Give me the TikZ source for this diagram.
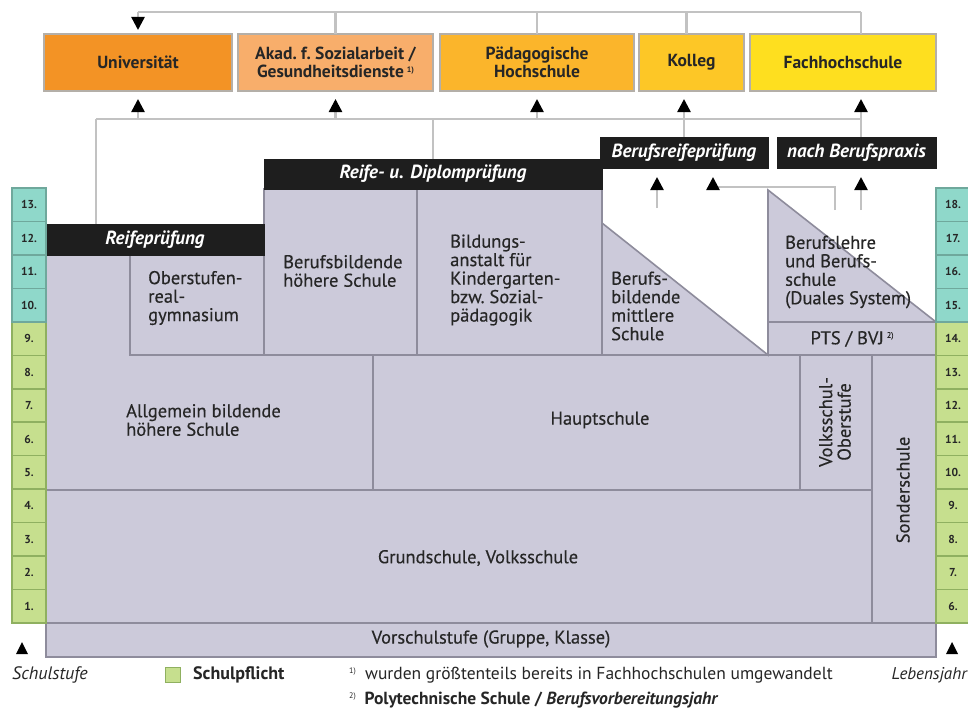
\documentclass[tikz,border=0pt]{standalone}
\usepackage{fontspec}
\setmainfont{PT Sans}
\newfontfamily\medfont[FakeBold=0.4]{PT Sans}
\usetikzlibrary{arrows.meta,calc}
\definecolor{lav}{HTML}{CCCADA}
\definecolor{lavline}{HTML}{8E8C9C}
\definecolor{connc}{HTML}{C2C2C2}
\definecolor{grn}{HTML}{C6DF8E}
\definecolor{grnline}{HTML}{8FB060}
\definecolor{tea}{HTML}{8FD8CA}
\definecolor{tealine}{HTML}{6FA89C}
\definecolor{cuni}{HTML}{F39325}
\definecolor{cakad}{HTML}{F8AE6B}
\definecolor{cpaed}{HTML}{FBB52B}
\definecolor{ckol}{HTML}{FDC726}
\definecolor{cfh}{HTML}{FEDF1F}
\definecolor{boxedge}{HTML}{B4AFA8}
\definecolor{barblack}{HTML}{1E1E1E}
\definecolor{txt}{HTML}{262626}
\begin{document}
\begin{tikzpicture}[x=1pt,y=-1pt,
  topbox/.style={draw=boxedge,line width=1.5pt,inner sep=0pt,outer sep=0pt,anchor=north west,align=center,minimum height=57pt,font=\fontsize{17.5}{17.5}\selectfont\bfseries,text=txt},
  bar/.style={fill=barblack,draw=barblack,inner sep=0pt,outer sep=0pt,anchor=north west,text=white,font=\fontsize{19}{19}\selectfont\bfseries\itshape},
  cell/.style={inner sep=0pt,outer sep=0pt,anchor=north west,minimum width=34pt,minimum height=33.46pt,line width=1.5pt,font=\fontsize{11.5}{12}\selectfont\bfseries,text=txt},
  lbl/.style={align=left,font=\medfont\fontsize{18.5}{18.5}\selectfont,text=txt,inner sep=0pt},
  clbl/.style={align=center,font=\medfont\fontsize{18.5}{18.5}\selectfont,text=txt,inner sep=0pt},
  conn/.style={draw=connc,line width=2.4pt},
  arr/.style={-{Triangle[width=13pt,length=13pt,color=black]}},
  rline/.style={draw=lavline,line width=1.6pt},
  legend/.style={font=\fontsize{17.5}{18}\selectfont,text=txt,inner sep=0pt,anchor=west},
]
\useasboundingbox (0,0) rectangle (968,709);
\fill[white] (0,0) rectangle (968,709);

% ---------- top boxes
\node[topbox,fill=cuni,minimum width=188pt] (uni) at (44,34) {Universität};
\node[topbox,fill=cakad,minimum width=195pt] (akad) at (238,34) {Akad.\ f.\ Sozialarbeit /\\Gesundheitsdienste\,\raisebox{0.6ex}{\fontsize{8}{9}\selectfont 1)}};
\node[topbox,fill=cpaed,minimum width=194pt] (paed) at (440,34) {Pädagogische\\Hochschule};
\node[topbox,fill=ckol,minimum width=105pt] (kolleg) at (639,34) {Kolleg};
\node[topbox,fill=cfh,minimum width=186pt] (fh) at (750,34) {Fachhochschule};

% ---------- lavender area
\fill[lav] (46,255) -- (264,255) -- (264,189) -- (602,189) -- (602,223) -- (768,355) -- (768,190) -- (936,322) -- (936,657) -- (46,657) -- cycle;
\draw[rline] (46,255) -- (264,255) -- (264,189) -- (602,189) -- (602,223) -- (768,355) -- (768,190) -- (936,322) -- (936,657) -- (46,657) -- cycle;
\draw[rline] (130,255) -- (130,355) -- (936,355);
\draw[rline] (264,255) -- (264,355);
\draw[rline] (417,189) -- (417,355);
\draw[rline] (602,223) -- (602,355);
\draw[rline] (768,322) -- (936,322);
\draw[rline] (768,322) -- (768,355);
\draw[rline] (373,355) -- (373,490);
\draw[rline] (46,490) -- (872,490);
\draw[rline] (800,355) -- (800,490);
\draw[rline] (872,355) -- (872,623);
\draw[rline] (46,623) -- (936,623);

% ---------- black bars
\node[bar,minimum width=218pt,minimum height=31pt] (reife) at (46,224) {Reifeprüfung};
\node[bar,minimum width=338pt,minimum height=30pt] (diplom) at (264,159) {Reife- u. Diplomprüfung};
\node[bar,minimum width=168pt,minimum height=31pt] (bre) at (600,137) {Berufsreifeprüfung};
\node[bar,minimum width=159pt,minimum height=31pt] (npx) at (777,137) {nach Berufspraxis};

% ---------- connectors
\coordinate (lvA) at (0,12);
\coordinate (lvB) at (0,119);
\coordinate (fhx) at ([xshift=18pt]fh.south);
\coordinate (kolx) at ([xshift=-5pt]kolleg.north);
\coordinate (reifex) at ([xshift=50pt]reife.north west);
\draw[conn] (uni.north |- lvA) -- (fhx |- lvA);
\draw[conn,arr,shorten >=4pt] (uni.north |- lvA) -- (uni.north);
\draw[conn] (akad.north) -- (akad.north |- lvA);
\draw[conn] (paed.north) -- (paed.north |- lvA);
\draw[conn] (kolx) -- (kolx |- lvA);
\draw[conn] ([yshift=57pt]fhx) -- (fhx |- lvA);

\draw[conn] (reifex |- lvB) -- (fhx |- lvB);
\draw[conn] (reifex) -- (reifex |- lvB);
\draw[conn] (diplom.north) -- (diplom.north |- lvB);
\draw[conn,arr,shorten >=8pt] (uni.south |- lvB) -- (uni.south);
\draw[conn,arr,shorten >=8pt] (akad.south |- lvB) -- (akad.south);
\draw[conn,arr,shorten >=8pt] (paed.south |- lvB) -- (paed.south);
\draw[conn,arr,shorten >=8pt] (bre.north) -- (kolleg.south -| bre.north);
\draw[conn,arr,shorten >=8pt] (npx.north -| fhx) -- (fhx);

\coordinate (s1) at (657,208);
\coordinate (s2) at (835,210);
\coordinate (s2b) at (713,187);
\coordinate (s3) at (861,210);
\draw[conn,arr,shorten >=9pt] (s1) -- (bre.south -| s1);
\draw[conn,arr,shorten >=9pt] (s2) |- (s2b) -- (bre.south -| s2b);
\draw[conn,arr,shorten >=9pt] (s3) -- (npx.south -| s3);

% ---------- labels in the school area
\node[lbl,anchor=west] (ahs) at (126,420) {Allgemein bildende\\höhere Schule};
\node[lbl,anchor=west] (org) at (148,298) {Oberstufen-\\real-\\gymnasium};
\node[lbl,anchor=west] (bhs) at (283,271) {Berufsbildende\\höhere Schule};
\node[lbl,anchor=west] (bakip) at (450,280) {Bildungs-\\anstalt für\\Kindergarten-\\bzw.\ Sozial-\\pädagogik};
\node[lbl,anchor=west] (bms) at (611,306) {Berufs-\\bildende\\mittlere\\Schule};
\node[lbl,anchor=west] (duales) at (785,272) {Berufslehre\\und Berufs-\\schule\\(Duales System)};
\node[clbl] (pts) at (852,339) {PTS / BVJ\,\raisebox{0.7ex}{\fontsize{8}{9}\selectfont 2)}};
\node[clbl] (hs) at (600,420) {Hauptschule};
\node[clbl,rotate=90] (vso) at (835,422) {Volksschul-\\Oberstufe};
\node[clbl,rotate=90] (sonder) at (903,490) {Sonderschule};
\node[clbl] (gs) at (478,558) {Grundschule, Volksschule};
\node[clbl] (vor) at (491,639) {Vorschulstufe (Gruppe, Klasse)};

% ---------- year columns
\foreach \i in {1,...,13}{
  \pgfmathsetmacro{\yt}{623-\i*33.46}
  \pgfmathtruncatemacro{\age}{\i+5}
  \ifnum\i<10
    \node[cell,fill=grn,draw=grnline] (lc\i) at (12,\yt) {\i.};
    \node[cell,fill=grn,draw=grnline] (rc\i) at (936,\yt) {\age.};
  \else
    \node[cell,fill=tea,draw=tealine] (lc\i) at (12,\yt) {\i.};
    \node[cell,fill=tea,draw=tealine] (rc\i) at (936,\yt) {\age.};
  \fi
}

% ---------- legend
\fill[black] (16,654) -- (28,654) -- (22,642) -- cycle;
\fill[black] (946,654) -- (958,654) -- (952,642) -- cycle;
\node[legend,font=\fontsize{18}{18}\selectfont\itshape] (schulstufe) at (12,675) {Schulstufe};
\node[draw=grnline,fill=grn,line width=1pt,minimum size=15pt,inner sep=0pt,anchor=west] (sq) at (165,675) {};
\node[legend,font=\fontsize{18}{18}\selectfont\bfseries] (pflicht) at (193,675) {Schulpflicht};
\node[legend] (fn1) at (349,675) {\raisebox{0.7ex}{\fontsize{8}{9}\selectfont 1)}\ \ wurden größtenteils bereits in Fachhochschulen umgewandelt};
\node[legend,font=\fontsize{17.5}{18}\selectfont\bfseries] (fn2) at (349,700) {\raisebox{0.7ex}{\fontsize{8}{9}\selectfont\mdseries 2)}\ \ Polytechnische Schule / \textit{Berufsvorbereitungsjahr}};
\node[legend,anchor=east,font=\fontsize{17}{18}\selectfont\itshape] (lebensjahr) at (967,675) {Lebensjahr};
\end{tikzpicture}
\end{document}
